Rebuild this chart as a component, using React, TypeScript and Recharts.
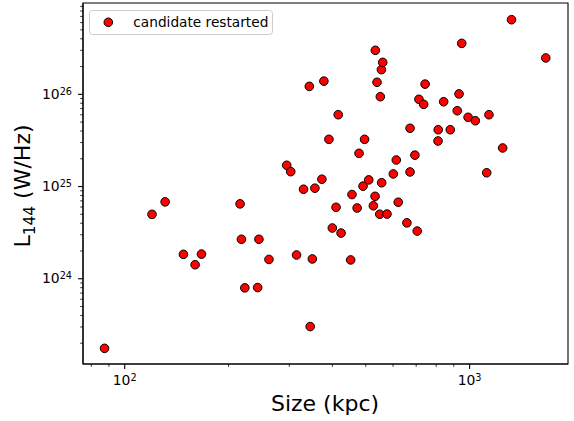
import React from "react";
import {
  Legend,
  ReferenceArea,
  Scatter,
  ScatterChart,
  XAxis,
  YAxis,
} from "recharts";

// Size (kpc) and L144 (W/Hz) of each candidate restarted source
const sizeKpc = [
  87.4, 120, 131, 148, 160, 167, 216, 218, 223, 243, 245, 262, 295, 303, 315,
  330, 343, 345, 350, 356, 373, 378, 391, 400, 410, 416, 424, 452, 456, 472,
  478, 491, 496, 510, 526, 532, 533, 539, 549, 551, 555, 556, 560, 576, 601,
  613, 621, 658, 672, 672, 694, 705, 713, 736, 743, 810, 811, 841, 879, 921,
  932, 949, 990, 1039, 1121, 1138, 1247, 1323, 1663,
];
const lum144 = [
  1.76e23, 4.99e24, 6.82e24, 1.84e24, 1.42e24, 1.85e24, 6.49e24, 2.68e24,
  7.97e23, 8.03e23, 2.68e24, 1.62e24, 1.7e25, 1.45e25, 1.81e24, 9.35e24,
  1.22e26, 3.03e23, 1.64e24, 9.59e24, 1.2e25, 1.39e26, 3.25e25, 3.55e24,
  5.95e24, 6.01e25, 3.13e24, 1.6e24, 8.19e24, 5.85e24, 2.29e25, 1.01e25,
  3.25e25, 1.18e25, 6.18e24, 7.83e24, 3.0e26, 1.35e26, 5.01e24, 9.42e25,
  1.85e26, 1.1e25, 2.22e26, 5.03e24, 1.37e25, 1.94e25, 6.76e24, 4.04e24,
  4.28e25, 1.44e25, 2.19e25, 3.29e24, 8.83e25, 7.79e25, 1.29e26, 3.12e25,
  4.13e25, 8.31e25, 4.13e25, 6.64e25, 1.01e26, 3.57e26, 5.63e25, 5.17e25,
  1.41e25, 6.01e25, 2.62e25, 6.44e26, 2.48e26,
];

const xMajorTicks = [100, 1000];
const xMinorTicks = [80, 90, 200, 300, 400, 500, 600, 700, 800, 900];
const yMajorTicks = [1e24, 1e25, 1e26];
const yMinorTicks = [
  2e23, 3e23, 4e23, 5e23, 6e23, 7e23, 8e23, 9e23,
  2e24, 3e24, 4e24, 5e24, 6e24, 7e24, 8e24, 9e24,
  2e25, 3e25, 4e25, 5e25, 6e25, 7e25, 8e25, 9e25,
  2e26, 3e26, 4e26, 5e26, 6e26, 7e26, 8e26, 9e26,
];

const xDomain = [75.7, 1929];
const yDomain = [1.19e23, 9.78e26];

const seriesName = "candidate restarted";
const data = sizeKpc.map((s, i) => ({ size: s, lum: lum144[i] }));

const FONT = "DejaVu Sans";

const isMajor = (v: number, majors: number[]) =>
  majors.some((m) => Math.abs(m - v) / m < 1e-6);

const XTick = (props: any) => {
  const { x, y, payload } = props;
  const major = isMajor(payload.value, xMajorTicks);
  const exp = Math.round(Math.log10(payload.value));
  return (
    <g>
      <line x1={x} x2={x} y1={y} y2={y + (major ? 4.9 : 2.8)} stroke="#000" strokeWidth={major ? 1.1 : 0.8} />
      {major && (
        <text x={x} y={y + 21.2} textAnchor="middle" fontFamily={FONT} fontSize={13.9} fill="#000">
          <tspan>10</tspan>
          <tspan dy={-4.5} fontSize={9.7}>{exp}</tspan>
        </text>
      )}
    </g>
  );
};

const YTick = (props: any) => {
  const { x, y, payload } = props;
  const major = isMajor(payload.value, yMajorTicks);
  const exp = Math.round(Math.log10(payload.value));
  return (
    <g>
      <line x1={x} x2={x - (major ? 4.9 : 2.8)} y1={y} y2={y} stroke="#000" strokeWidth={major ? 1.1 : 0.8} />
      {major && (
        <text x={x - 11} y={y + 4.4} textAnchor="end" fontFamily={FONT} fontSize={13.9} fill="#000">
          <tspan>10</tspan>
          <tspan dy={-4} fontSize={9.7}>{exp}</tspan>
        </text>
      )}
    </g>
  );
};

const Dot = (props: any) => (
  <circle cx={props.cx} cy={props.cy} r={4.3} fill="#ff0000" stroke="#000" strokeWidth={1} />
);

const LegendBox = () => (
  <svg width={184} height={25} style={{ display: "block" }}>
    <rect x={0.5} y={0.5} width={183} height={24} rx={3} fill="#fff" stroke="#cccccc" />
    <circle cx={19.3} cy={12.3} r={4.3} fill="#ff0000" stroke="#000" strokeWidth={1} />
    <text x={44.3} y={16.7} fontFamily={FONT} fontSize={13.7} fill="#000">
      {seriesName}
    </text>
  </svg>
);

export default function App() {
  return (
    <div style={{ position: "absolute", left: 0, top: 0, background: "#fff" }}>
      <ScatterChart
        width={574}
        height={421}
        margin={{ top: 3, right: 6, bottom: 0, left: 0 }}
      >
        <XAxis
          type="number"
          dataKey="size"
          scale="log"
          domain={xDomain}
          allowDataOverflow
          ticks={[...xMinorTicks, ...xMajorTicks]}
          interval={0}
          tickSize={0}
          tickMargin={0}
          tickLine={false}
          tick={XTick}
          height={57}
          axisLine={{ stroke: "#000", strokeWidth: 1.1 }}
        />
        <YAxis
          type="number"
          dataKey="lum"
          scale="log"
          domain={yDomain}
          allowDataOverflow
          ticks={[...yMinorTicks, ...yMajorTicks]}
          interval={0}
          tickSize={0}
          tickMargin={0}
          tickLine={false}
          tick={YTick}
          width={83}
          axisLine={{ stroke: "#000", strokeWidth: 1.1 }}
        />
        <ReferenceArea
          x1={xDomain[0]}
          x2={xDomain[1]}
          y1={yDomain[0]}
          y2={yDomain[1]}
          fill="none"
          stroke="#000"
          strokeWidth={1.1}
          fillOpacity={0}
        />
        <Scatter
          name={seriesName}
          data={data}
          shape={Dot}
          isAnimationActive={false}
        />
        <Legend
          layout="horizontal"
          verticalAlign="middle"
          align="center"
          wrapperStyle={{ top: 10, left: 89, width: 184, height: 25 }}
          content={() => <LegendBox />}
        />
        <text x={325} y={411} textAnchor="middle" fontFamily={FONT} fontSize={22} fill="#000">
          Size (kpc)
        </text>
        <text
          transform="translate(30,186) rotate(-90)"
          textAnchor="middle"
          fontFamily={FONT}
          fontSize={22}
          fill="#000"
        >
          <tspan>L</tspan>
          <tspan dy={4.5} fontSize={15.4}>144</tspan>
          <tspan dy={-4.5}> (W/Hz)</tspan>
        </text>
      </ScatterChart>
    </div>
  );
}
